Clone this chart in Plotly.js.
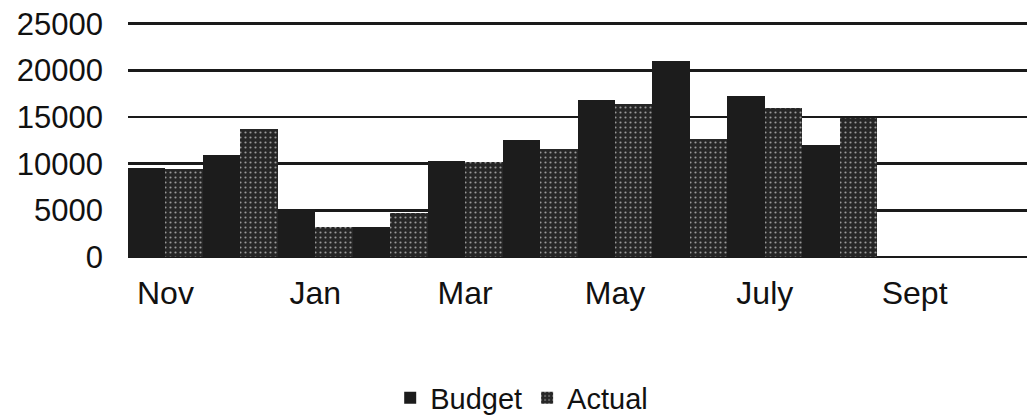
<!DOCTYPE html>
<html>
<head>
<meta charset="utf-8">
<script src="https://cdn.plot.ly/plotly-3.0.1.min.js"></script>
<style>html,body{margin:0;padding:0;background:#fff;}#chart{width:1029px;height:415px;}</style>
</head>
<body>
<div id="chart"></div>
<script>
var months = ["Nov","Dec","Jan","Feb","Mar","Apr","May","June","July","Aug","Sept","Oct"];
var budget = [9550, 10900, 5150, 3250, 10300, 12550, 16850, 21050, 17300, 12000, null, null];
var actual = [9400, 13700, 3250, 4700, 10150, 11550, 16400, 12600, 15950, 14900, null, null];
var tickMonths = ["Nov","Jan","Mar","May","July","Sept"];
var yTicks = [0, 5000, 10000, 15000, 20000, 25000];

var font = "Liberation Sans, Arial, Helvetica, sans-serif";
var data = [
  {type:"bar", name:"Budget", x:months, y:budget,
   marker:{color:"#1c1c1c", line:{width:0}}},
  {type:"bar", name:"Actual", x:months, y:actual,
   marker:{color:"#2e2e2e", line:{width:0},
     pattern:{shape:".", fgcolor:"#9a9a9a", bgcolor:"#262626", size:5, solidity:0.15}}}
];
var layout = {
  width:1029, height:415,
  margin:{l:128, r:2, t:20, b:158, autoexpand:false},
  paper_bgcolor:"#fff", plot_bgcolor:"#fff",
  barmode:"group", bargap:0, bargroupgap:0,
  showlegend:true,
  legend:{orientation:"h", xref:"container", yref:"container",
    x:0.507, xanchor:"center", y:0.041, yanchor:"middle",
    font:{family:font, size:29, color:"#111"}, itemwidth:30, tracegroupgap:0},
  xaxis:{type:"category", categoryorder:"array", categoryarray:months,
    tickmode:"array", tickvals:tickMonths, ticktext:tickMonths,
    showgrid:false, showline:false, zeroline:false, ticks:"",
    automargin:false, ticklabelstandoff:14,
    tickfont:{family:font, size:32, color:"#111"}},
  yaxis:{range:[0,25400], tickmode:"array", tickvals:yTicks,
    ticktext:yTicks.map(String), automargin:false,
    showgrid:true, gridcolor:"#1a1a1a", gridwidth:2.5,
    zeroline:true, zerolinecolor:"#1a1a1a", zerolinewidth:2.5,
    showline:false, ticks:"", ticklabelstandoff:24,
    tickfont:{family:font, size:31, color:"#111"}}
};
Plotly.newPlot("chart", data, layout, {displayModeBar:false, staticPlot:true});
</script>
</body>
</html>
